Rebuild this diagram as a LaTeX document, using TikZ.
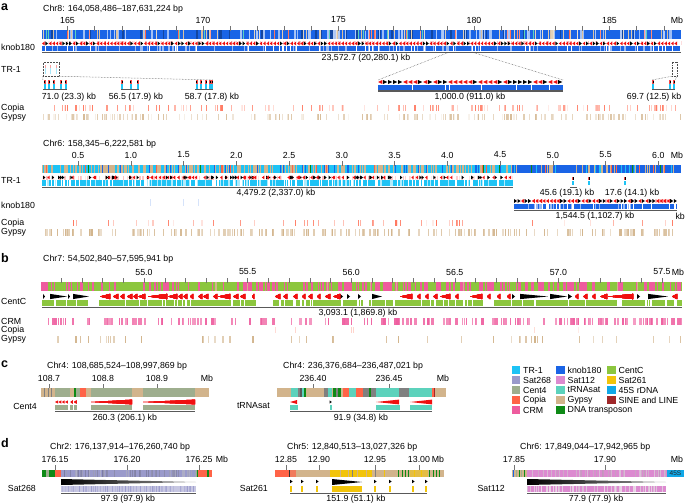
\documentclass[tikz,border=0pt]{standalone}
\usepackage{fontspec}
\setmainfont{Liberation Sans}
\usetikzlibrary{positioning}
\definecolor{xtr}{HTML}{1EC3F5}
\definecolor{xknob}{HTML}{1A64E6}
\definecolor{xcentc}{HTML}{8CC63E}
\definecolor{xsattwo}{HTML}{9A9ACB}
\definecolor{xsatone}{HTML}{DC8AD0}
\definecolor{xsatsix}{HTML}{F2C40A}
\definecolor{xcentf}{HTML}{9EAE8E}
\definecolor{xtrna}{HTML}{5CD2BC}
\definecolor{xrdna}{HTML}{10A8E8}
\definecolor{xcopia}{HTML}{FF6347}
\definecolor{xgypsy}{HTML}{D2B48C}
\definecolor{xline}{HTML}{A0282A}
\definecolor{xcrm}{HTML}{EE5C9E}
\definecolor{xdna}{HTML}{0E8A16}
\definecolor{xred}{HTML}{F01010}
\colorlet{xknoblt}{xknob!45}
\colorlet{xtrlt}{xtr!35}
\colorlet{xsattwodk}{xsattwo!80!black}
\colorlet{xsatonedk}{xsatone!80!black}
\colorlet{xgrey}{black!50}
\tikzset{
	lbl/.style={font=\fontsize{8.8}{10}\selectfont, inner sep=0pt},
	panel/.style={font=\bfseries\fontsize{12.5}{13}\selectfont, inner sep=0pt, anchor=west},
	tick/.style={draw=black!55, line width=0.4pt},
	span/.style={draw=black!65, line width=1.3pt},
	zoomline/.style={draw=black!70, densely dotted, line width=0.5pt},
	zoombox/.style={draw=black!70, densely dotted, line width=0.5pt, inner sep=0pt},
	swatch/.style={minimum width=8.5pt, minimum height=7.5pt, inner sep=0pt},
}
% random stripes: x0, x1, top, bottom, colour, count, min shade, max shade, max width
\newcommand{\bands}[9]{%
	\foreach \k in {1,...,#6}{%
		\pgfmathsetmacro{\bx}{#1+rnd*(#2-#1)}%
		\pgfmathsetmacro{\bw}{0.3+rnd*#9}%
		\pgfmathtruncatemacro{\bs}{#7+rnd*(#8-#7)}%
		\fill[#5!\bs] (\bx,#3) rectangle ({min(\bx+\bw,#2)},#4);
	}%
}
\newcommand{\wedgeR}[5]{\fill[#5] (#1,#3-#4) -- (#2,#3) -- (#1,#3+#4) -- cycle;}
\newcommand{\wedgeL}[5]{\fill[#5] (#2,#3-#4) -- (#1,#3) -- (#2,#3+#4) -- cycle;}
% random arrows: x0, x1, mid, count, red fraction, length
\newcommand{\arrowrow}[6]{%
	\foreach \k in {1,...,#4}{%
		\pgfmathsetmacro{\ax}{#1+rnd*(#2-#1-#6)}%
		\pgfmathsetmacro{\ar}{rnd}%
		\ifdim\ar pt<#5pt
			\wedgeL{\ax}{\ax+#6}{#3}{1.9}{xred}
		\else
			\wedgeR{\ax}{\ax+#6}{#3}{1.9}{black}
		\fi
	}%
}
% evenly spaced arrows: x0, n, step, mid, red fraction, length
\newcommand{\arrowtrain}[6]{%
	\foreach \k in {0,...,#2}{%
		\pgfmathsetmacro{\ax}{#1+\k*#3}%
		\pgfmathsetmacro{\ar}{rnd}%
		\ifdim\ar pt<#5pt
			\wedgeL{\ax}{\ax+#6}{#4}{2}{xred}
		\else
			\wedgeR{\ax}{\ax+#6}{#4}{2}{black}
		\fi
	}%
}
% one TR-1 unit: x, top
\newcommand{\trunit}[2]{%
	\fill[xred!75] (#1-1,#2) rectangle (#1+1,#2+3.8);
	\fill[black] (#1-0.3,#2+0.6) rectangle (#1+0.3,#2+3.2);
	\fill[xtr] (#1-1,#2+4) rectangle (#1+1,#2+8.5);
}

\begin{document}
\begin{tikzpicture}[x=1pt, y=-1pt]
	\useasboundingbox (0,0) rectangle (685,503);

	% a -- Chr8
	\node[panel] (pa) at (1,7) {a};
	\node[lbl, anchor=west] (ttleight) at (43,9.5) {Chr8: 164,058,486–187,631,224 bp};
	\foreach \m in {165,170,175,180,185}
		\node[lbl] (te-\m) at ({42+(\m-164.058)*27.1},20) {\m};
	\node[lbl] (mbeight) at (677,20) {Mb};
	\pgfmathsetseed{3}
	\fill[xknob] (42,30) rectangle (681,39);
	\bands{42}{681}{30}{39}{xgypsy}{70}{40}{90}{1}
	\bands{42}{681}{30}{39}{xknoblt}{80}{70}{100}{2}
	\bands{42}{681}{30}{39}{xknob!70!black}{40}{100}{100}{1.5}
	\bands{42}{681}{30}{39}{xcopia}{22}{60}{100}{0.8}
	\bands{42}{681}{30}{39}{xtrna}{15}{100}{100}{0.8}
	\foreach \m in {165,...,187}
		\draw[tick] ({42+(\m-164.058)*27.1},26) -- ++(0,5);

	\node[lbl, anchor=west] (lknoba) at (1,47) {knob180};
	\bands{42}{681}{41.5}{45.5}{xred}{200}{8}{30}{1.5}
	\arrowtrain{42}{186}{3.4}{43.5}{0.65}{2.6}
	\fill[xknob] (42,46) rectangle (681,51);
	\bands{42}{681}{46}{51}{xknoblt}{90}{100}{100}{1.5}
	\bands{42}{681}{46}{51}{white}{45}{100}{100}{0.8}
	\draw[span] (42,52.3) -- (681,52.3);
	\node[lbl] (sza) at (366,58) {23,572.7 (20,280.1) kb};

	\node[lbl, anchor=west] (ltra) at (1,69) {TR-1};
	\node[zoombox, minimum width=16pt, minimum height=14pt] (boxa) at (51,69) {};
	\foreach \x in {45.5,50.5,56}{
		\fill[xred!40] (\x-0.5,65) rectangle (\x+0.5,68);
		\fill[xtr!40] (\x-0.5,68) rectangle (\x+0.5,74);
	}
	\foreach \x in {44.5,49,53.5,61,65.5} \trunit{\x}{80}
	\foreach \x in {122,130.5,137.5} \trunit{\x}{80}
	\foreach \x in {196.5,201,206,210,212} \trunit{\x}{80}
	\coordinate (clone) at (43,80);
	\coordinate (clthree) at (213,80);
	\draw[zoomline] (boxa.south west) -- (clone);
	\draw[zoomline] (boxa.south east) -- (clthree);
	\draw[span] (43,89.8) -- (67,89.8);
	\draw[span] (121,89.8) -- (139,89.8);
	\draw[span] (195,89.8) -- (213,89.8);
	\node[lbl] (szaone) at (69,97) {71.0 (23.3) kb};
	\node[lbl] (szatwo) at (136,97) {56.5 (17.9) kb};
	\node[lbl] (szathree) at (212,97) {58.7 (17.8) kb};

	% zoom on knob180
	\coordinate (zka) at (447,53);
	\coordinate (zkb) at (475,53);
	\coordinate (zkw) at (378,80);
	\coordinate (zke) at (563,80);
	\draw[zoomline] (zka) -- (zkw);
	\draw[zoomline] (zkb) -- (zke);
	\arrowtrain{378}{36}{5}{82}{0.6}{4.3}
	\fill[xknob] (378,84.5) rectangle (563,90);
	\foreach \x in {412,445,449,481,516,531,549}
		\fill[white] (\x,84.5) rectangle (\x+1.3,90);
	\draw[span] (378,91) -- (563,91);
	\node[lbl] (szk) at (470,97) {1,000.0 (911.0) kb};

	\node[zoombox, minimum width=5pt, minimum height=14pt] (boxb) at (674.5,69) {};
	\foreach \x in {653,670,674} \trunit{\x}{80}
	\coordinate (clfw) at (652,80);
	\coordinate (clfe) at (675,80);
	\draw[zoomline] (boxb.south west) -- (clfw);
	\draw[zoomline] (boxb.south east) -- (clfe);
	\draw[span] (652,89.8) -- (675,89.8);
	\node[lbl] (szafour) at (654,97) {69.7 (12.5) kb};

	\node[lbl, anchor=west] (lcoa) at (1,108) {Copia};
	\node[lbl, anchor=west] (lgya) at (1,117) {Gypsy};
	\bands{42}{681}{105}{111}{xcopia}{130}{12}{85}{1.4}
	\bands{42}{681}{114}{120}{xgypsy}{170}{15}{90}{1.4}

	% a -- Chr6
	\node[lbl, anchor=west] (ttlsix) at (43,144) {Chr6: 158,345–6,222,581 bp};
	\foreach \v [count=\n] in {0.5,1.0,1.5,2.0,2.5,3.0,3.5,4.0,4.5,5.0,5.5,6.0}
		\node[lbl] (ts-\n) at ({42+(\v-0.158)*105.5},155) {\v};
	\node[lbl] (mbsix) at (677,155) {Mb};
	\pgfmathsetseed{7}
	\fill[xtr] (42,165) rectangle (513,173);
	\bands{42}{513}{165}{173}{xgypsy}{230}{100}{100}{1.6}
	\bands{42}{513}{165}{173}{xknob}{35}{100}{100}{1}
	\bands{42}{513}{165}{173}{xcopia}{12}{100}{100}{0.8}
	\bands{42}{513}{165}{173}{xdna}{5}{100}{100}{0.8}
	\fill[xknob] (513,165) rectangle (681,173);
	\bands{513}{681}{165}{173}{xgypsy}{25}{100}{100}{1.5}
	\bands{513}{681}{165}{173}{xtr}{12}{100}{100}{1}
	\bands{513}{681}{165}{173}{xcopia}{6}{100}{100}{0.8}
	\bands{513}{681}{165}{173}{xdna}{3}{100}{100}{0.8}
	\foreach \v in {0.5,1.0,1.5,2.0,2.5,3.0,3.5,4.0,4.5,5.0,5.5,6.0}
		\draw[tick] ({42+(\v-0.158)*105.5},161) -- ++(0,5);

	\node[lbl, anchor=west] (ltrb) at (1,180) {TR-1};
	\bands{42}{513}{175.5}{179.5}{xred}{150}{8}{30}{1.5}
	\arrowrow{42}{513}{177.5}{130}{0.55}{2.4}
	\fill[xtr] (42,180) rectangle (513,186);
	\bands{42}{513}{180}{186}{white}{100}{100}{100}{1.5}
	\bands{42}{513}{180}{186}{xtrlt}{60}{100}{100}{1.5}
	\draw[span] (42,187.2) -- (513,187.2);
	\node[lbl] (szb) at (276,193) {4,479.2 (2,337.0) kb};
	\foreach \x in {573,589,625} \trunit{\x}{176.5}
	\draw[span] (570,187.2) -- (577,187.2);
	\node[lbl] (szbone) at (567,193) {45.6 (19.1) kb};
	\node[lbl] (szbtwo) at (632,193) {17.6 (14.1) kb};

	\node[lbl, anchor=west] (lknobb) at (1,205) {knob180};
	\foreach \x in {150,183,198}
		\fill[xknob!18] (\x,199) rectangle (\x+0.8,206);
	\bands{514}{677}{199}{203}{xred}{50}{8}{30}{1.5}
	\arrowtrain{514}{45}{3.55}{201}{0.6}{3}
	\fill[xknob] (514,203.5) rectangle (677,209);
	\bands{514}{677}{203.5}{209}{white}{25}{100}{100}{1.2}
	\bands{514}{677}{203.5}{209}{xknoblt}{20}{100}{100}{1.2}
	\draw[span] (514,210.2) -- (677,210.2);
	\node[lbl] (szc) at (595,216) {1,544.5 (1,102.7) kb};
	\node[lbl, anchor=east] (szckb) at (685,216) {kb};

	\node[lbl, anchor=west] (lcob) at (1,223) {Copia};
	\node[lbl, anchor=west] (lgyb) at (1,232) {Gypsy};
	\bands{42}{681}{220}{226}{xcopia}{50}{10}{90}{1.2}
	\bands{42}{681}{229}{236}{xgypsy}{220}{40}{100}{1.5}

	% b -- Chr7
	\node[panel] (pb) at (1,258) {b};
	\node[lbl, anchor=west] (ttlseven) at (43,259) {Chr7: 54,502,840–57,595,941 bp};
	\foreach \v [count=\n] in {55.0,55.5,56.0,56.5,57.0,57.5}
		\node[lbl] (tv-\n) at ({144+(\n-1)*103.6},272) {\v};
	\node[lbl] (mbseven) at (678,272) {Mb};
	\pgfmathsetseed{11}
	\fill[xcentc] (41,282) rectangle (682,291);
	\bands{41}{240}{282}{291}{xcrm}{45}{100}{100}{2}
	\bands{240}{682}{282}{291}{xcrm}{170}{100}{100}{2.5}
	\bands{41}{682}{282}{291}{xgypsy}{10}{100}{100}{0.8}
	\foreach \k in {-4,...,25}
		\draw[tick] ({144+\k*20.72},278) -- ++(0,5);

	\node[lbl, anchor=west] (lcentc) at (1,301) {CentC};
	\fill[xcentc] (42,300) rectangle (682,306);
	\bands{42}{682}{300}{306}{white}{60}{100}{100}{1.5}
	\foreach \a/\b in {90/99,256/273,363/369,485/494,617/622}
		\fill[white] (\a,300) rectangle (\b,306);
	\foreach \a/\b in {43/45,50/67,68/70,73/89,340/343,347/350,358/361,372/382,512/515,520/548,550/567,568/572,637/640,648/668}
		\wedgeR{\a}{\b}{296.5}{2.6}{black}
	\foreach \a/\b in {100/110,113/118,120/124,127/132,133/137,138/145,148/167,168/177,178/182,183/187,190/193,198/202,203/208,213/217,218/230,233/238,240/245,252/254,275/280,283/287,293/297,302/305,308/312,317/320,325/330,333/340,400/412,417/420,425/428,433/437,440/450,455/458,470/482,487/490,497/500,507/510,575/578,583/587,592/595,600/607,608/633,672/677}
		\wedgeL{\a}{\b}{296.5}{2.6}{xred}
	\draw[span] (42,307.5) -- (682,307.5);
	\node[lbl] (szd) at (358,313.5) {3,093.1 (1,869.8) kb};

	\node[lbl, anchor=west] (lcrm) at (1,321) {CRM};
	\node[lbl, anchor=west] (lcoc) at (1,330) {Copia};
	\node[lbl, anchor=west] (lgyc) at (1,339) {Gypsy};
	\bands{42}{340}{318}{325}{xcrm}{60}{60}{100}{3}
	\bands{340}{682}{318}{325}{xcrm}{110}{60}{100}{3}
	\bands{42}{682}{327}{333}{xcopia}{6}{10}{30}{0.8}
	\bands{42}{682}{336}{343}{xgypsy}{45}{40}{100}{1.5}

	% c -- Cent4 and tRNAsat
	\node[panel] (pc) at (1,364) {c};
	\node[lbl, anchor=west] (ttlcentf) at (47,366) {Chr4: 108,685,524–108,997,869 bp};
	\foreach \x/\v [count=\n] in {49/108.7,103/108.8,157/108.9}{
		\node[lbl] (tc-\n) at (\x,378) {\v};
		\draw[tick] (\x,384) -- ++(0,4);
	}
	\node[lbl] (mbcentf) at (207,378) {Mb};
	\foreach \a/\b/\c in {41/55/xgypsy,55/70/xcentf,70/74/xgypsy,74/76/xdna,76/80/xcentf,80/86/xcopia,86/91/xgypsy,91/132/xcentf,132/143/xgypsy,143/195/xcentf,195/209/xgypsy}
		\fill[\c] (\a,388) rectangle (\b,397);
	\foreach \x in {44,47.5,50.5}
		\fill[xgrey] (\x,388) rectangle (\x+0.8,397);
	\foreach \x in {55,58.3,61.6,64.9} \wedgeL{\x}{\x+3}{402}{1.6}{xred}
	\wedgeL{70.5}{72.5}{402}{1.6}{xred}
	\wedgeL{74}{76.5}{402}{1.6}{xred}
	\wedgeL{91}{132}{402}{2.4}{xred}
	\wedgeL{143}{195}{402}{2.4}{xred}
	\foreach \a/\b in {55/68,70/72.5,74/77,91/132,143/195}
		\fill[xcentf] (\a,404.5) rectangle (\b,410);
	\draw[span] (55,411.3) -- (195,411.3);
	\node[lbl, anchor=east] (lcentf) at (37,406) {Cent4};
	\node[lbl] (sze) at (125,418) {260.3 (206.1) kb};

	\node[lbl, anchor=west] (ttltrna) at (283,366) {Chr4: 236,376,684–236,487,021 bp};
	\foreach \x/\v [count=\n] in {313/236.40,389/236.45}{
		\node[lbl] (tt-\n) at (\x,378) {\v};
		\draw[tick] (\x,384) -- ++(0,4);
	}
	\node[lbl] (mbtrna) at (443,378) {Mb};
	\foreach \a/\b/\c in {277/291/xgypsy,291/298/xtrna,298/300/xgrey,300/302/black!65,302/304/xtrna,304/306/xdna,306/324/xgypsy,324/328/xgrey,328/332/xtrna,332/333/xgypsy,333/336/xdna,336/338/xgrey,338/341/xdna,341/343/xgypsy,343/349/xcopia,349/356/xtrna,356/363/xcopia,363/369/xgrey,369/371/xdna,371/376/xgrey,376/399/xtrna,399/409/xgrey,409/432/xtrna,432/433.5/xcopia,433.5/435/xline,435/446/xgypsy}
		\fill[\c] (\a,388) rectangle (\b,397);
	\wedgeL{290}{297}{402}{2}{xred}
	\wedgeR{329.5}{331.8}{402}{1.6}{black}
	\wedgeL{376}{399}{402}{2.4}{xred}
	\wedgeL{410}{432}{402}{2.4}{xred}
	\foreach \a/\b in {290/298,330/332,376/400,410/432}
		\fill[xtrna] (\a,404.5) rectangle (\b,410);
	\draw[span] (290,411.3) -- (432,411.3);
	\node[lbl, anchor=east] (ltrna) at (270,406) {tRNAsat};
	\node[lbl] (szf) at (361,418) {91.9 (34.8) kb};

	% legend
	\foreach \c/\t [count=\n] in {xtr/TR-1,xknob/knob180,xcentc/CentC,xsattwo/Sat268,xsatone/Sat112,xsatsix/Sat261,xcentf/Cent4,xtrna/tRNAsat,xrdna/45S rDNA,xcopia/Copia,xgypsy/Gypsy,xline/SINE and LINE,xcrm/CRM,xdna/DNA transposon}{
		\pgfmathtruncatemacro{\col}{mod(\n-1,3)}
		\pgfmathtruncatemacro{\row}{(\n-1)/3}
		\pgfmathsetmacro{\sx}{\col==0 ? 516 : (\col==1 ? 560.5 : 611.5)}
		\node[swatch, fill=\c] (sw-\n) at (\sx,370+10*\row) {};
		\node[lbl, anchor=west, right=2.5pt of sw-\n] (lg-\n) {\t};
	}

	% d -- Sat268, Sat261, Sat112
	\node[panel] (pd) at (1,443) {d};
	\node[lbl, anchor=west] (ttltwo) at (50,447) {Chr2: 176,137,914–176,260,740 bp};
	\foreach \x/\v [count=\n] in {55/176.15,127/176.20,199/176.25}{
		\node[lbl] (tw-\n) at (\x,459) {\v};
		\draw[tick] (\x,465) -- ++(0,5);
	}
	\node[lbl] (mbtwo) at (222,459) {Mb};
	\foreach \a/\b/\c in {42/46/xdna,46/49/xcentf,49/55/xdna,55/61/xcopia,61/195/xsattwo,195/197/xcentf,197/198/xdna,198/207/xcopia,207/209/xdna,209/212/xcopia}
		\fill[\c] (\a,470) rectangle (\b,477);
	\pgfmathsetseed{17}
	\bands{61}{195}{470}{477}{xsattwodk}{70}{60}{100}{0.5}
	\shade[left color=black, right color=black!40] (61,479) -- (196,482) -- (61,485) -- cycle;
	\fill[xsattwo!55] (61,486) rectangle (196,492);
	\bands{61}{196}{486}{492}{xsattwo}{80}{60}{100}{0.5}
	\draw[span] (61,493.3) -- (196,493.3);
	\node[lbl, anchor=east] (lsattwo) at (36,488) {Sat268};
	\node[lbl] (szg) at (128,499) {97.9 (97.9) kb};

	\node[lbl, anchor=west] (ttlfive) at (287,447) {Chr5: 12,840,513–13,027,326 bp};
	\foreach \x/\v [count=\n] in {286/12.85,319/12.90,375/12.95,419/13.00}{
		\node[lbl] (tf-\n) at (\x,459) {\v};
		\draw[tick] (\x,465) -- ++(0,5);
	}
	\node[lbl] (mbfive) at (438,459) {Mb};
	\foreach \a/\b/\c in {275/289/xcopia,289/290.2/black!80,290.2/296/xcopia!70!xgypsy,296/330/xgypsy,330/372/xsatsix,372/397/xgypsy,397/410/xgypsy,410/428/xsatsix!55!xgypsy,428/441/xgypsy,441/444/xgypsy}
		\fill[\c] (\a,470) rectangle (\b,477);
	\foreach \x in {340,348,357,366} \fill[xgypsy] (\x,470) rectangle (\x+1.2,477);
	\foreach \x in {352,375} \fill[xgrey] (\x,470) rectangle (\x+0.7,477);
	\foreach \x in {384,414,421} \fill[xsatsix] (\x,470) rectangle (\x+1.2,477);
	\foreach \x in {398,401.5,405,408,429,432.5,436,439} \fill[xdna] (\x,470) rectangle (\x+1.4,477);
	\foreach \x in {290,301,316,374,389,412,425}{
		\wedgeR{\x}{\x+2.6}{481.5}{1.8}{black}
		\fill[xsatsix] (\x,485.5) rectangle (\x+2,492);
	}
	\wedgeR{332}{362}{482}{3}{black}
	\fill[xsatsix] (332,486) rectangle (362,492);
	\draw[span] (290,493.3) -- (427,493.3);
	\node[lbl, anchor=east] (lsatsix) at (268,488) {Sat261};
	\node[lbl] (szh) at (356,499) {151.9 (51.1) kb};

	\node[lbl, anchor=west] (ttlsixd) at (520,447) {Chr6: 17,849,044–17,942,965 bp};
	\foreach \x/\v [count=\n] in {514/17.85,605/17.90}{
		\node[lbl] (tx-\n) at (\x,459) {\v};
		\draw[tick] (\x,465) -- ++(0,5);
	}
	\node[lbl] (mbsixd) at (677,459) {Mb};
	\fill[xgypsy] (512,470) rectangle (527,477);
	\foreach \x/\c in {513/xknob,516/xcentf,518.5/xdna,521/xcentf,524/xdna}
		\fill[\c] (\x,470) rectangle (\x+0.9,477);
	\fill[xsatone] (527,470) rectangle (667,477);
	\bands{527}{667}{470}{477}{xsatonedk}{60}{40}{75}{0.5}
	\fill[xrdna] (667,470) rectangle (684,477);
	\node[inner sep=0pt, font=\fontsize{6.5}{7}\selectfont, text=black!85] (rdna) at (675.5,473.7) {45S};
	\shade[left color=black, right color=black!40] (527,479) -- (666,482) -- (527,485) -- cycle;
	\fill[xsatone] (527,486) rectangle (666,492);
	\bands{527}{666}{486}{492}{xsatonedk}{60}{25}{50}{0.5}
	\draw[span] (527,493.3) -- (666,493.3);
	\node[lbl, anchor=east] (lsatone) at (505,488) {Sat112};
	\node[lbl] (szi) at (596,499) {77.9 (77.9) kb};
\end{tikzpicture}
\end{document}
